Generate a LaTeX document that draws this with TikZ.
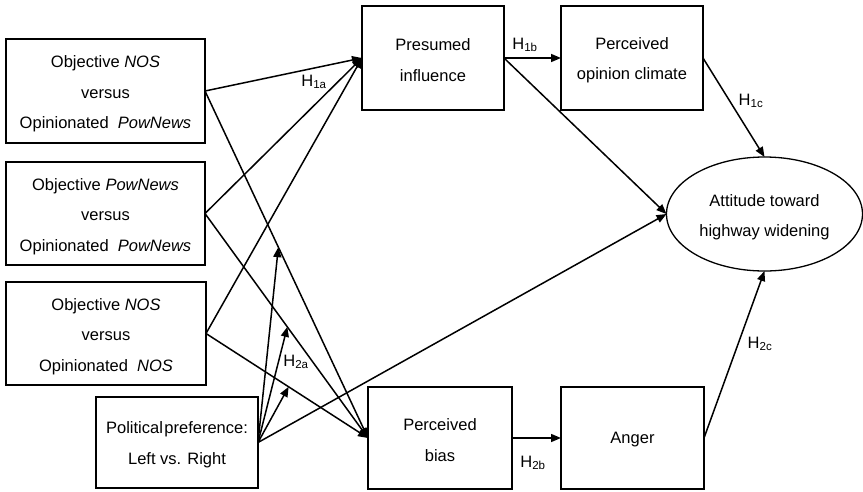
\documentclass[tikz,border=0pt]{standalone}
\usepackage{fontspec}
\setmainfont{Liberation Sans}
\usetikzlibrary{arrows.meta,shapes.geometric}
\begin{document}
\begin{tikzpicture}[x=1pt,y=-1pt,
  every node/.style={inner sep=0pt,outer sep=0pt},
  box/.style={draw,line width=1.3pt,rectangle},
  oval/.style={draw,line width=1.3pt,ellipse},
  txt/.style={align=center,font=\fontsize{16.5}{30.5}\selectfont},
  arr/.style={line width=1.5pt,-{Triangle[length=10pt,width=8pt]}},
  lab/.style={font=\fontsize{16.5}{18}\selectfont}
]
\useasboundingbox (0,0) rectangle (863,491);
\node[box,minimum width=199pt,minimum height=104pt] (b1) at (105.5,91) {};
\node[box,minimum width=199pt,minimum height=103pt] (b2) at (105.5,213.5) {};
\node[box,minimum width=200pt,minimum height=103pt] (b3) at (106,333.5) {};
\node[box,minimum width=162pt,minimum height=91pt] (pp) at (177,442.5) {};
\node[box,minimum width=142pt,minimum height=104pt] (pi) at (433,58) {};
\node[box,minimum width=142pt,minimum height=104pt] (pc) at (632,58) {};
\node[box,minimum width=144pt,minimum height=102pt] (bias) at (440,438) {};
\node[box,minimum width=143pt,minimum height=102pt] (anger) at (632.5,438) {};
\node[oval,minimum width=196pt,minimum height=114pt] (att) at (764.5,214) {};

\node[txt] (b1t) at ([yshift=-3pt]b1.center) {Objective \textit{NOS}\\versus\\Opinionated\ \ \textit{PowNews}};
\node[txt] (b2t) at ([yshift=-3pt]b2.center) {Objective \textit{PowNews}\\versus\\Opinionated\ \ \textit{PowNews}};
\node[txt] (b3t) at ([yshift=-3pt]b3.center) {Objective \textit{NOS}\\versus\\Opinionated\ \ \textit{NOS}};
\node[txt] (ppt) at ([yshift=-2pt]pp.center) {Political\hspace{1.5pt}preference:\\Left vs. Right};
\node[txt] (pit) at ([yshift=-2pt]pi.center) {Presumed\\influence};
\node[txt] (pct) at ([yshift=-2pt]pc.center) {Perceived\\opinion climate};
\node[txt] (biast) at ([yshift=-2pt]bias.center) {Perceived\\bias};
\node[txt] (angert) at ([yshift=-2pt]anger.center) {Anger};
\node[txt] (attt) at ([yshift=-3pt]att.center) {Attitude toward\\highway widening};

% paths to presumed influence
\draw[arr] (b1.east) -- (pi.west);
\draw[arr] (b2.east) -- (pi.west);
\draw[arr] (b3.east) -- (pi.west);
% paths to perceived bias
\draw[arr] (b1.east) -- (bias.west) coordinate[pos=0.45] (m1);
\draw[arr] (b2.east) -- (bias.west) coordinate[pos=0.505] (m2);
\draw[arr] (b3.east) -- (bias.west) coordinate[pos=0.51] (m3);
% moderation
\draw[arr] (pp.east) -- (m1);
\draw[arr] (pp.east) -- (m2);
\draw[arr] (pp.east) -- (m3);
\draw[arr] (pp.east) -- (att.west);
% right side
\draw[arr] (pi.east) -- (pc.west);
\draw[arr] (pi.east) -- (att.west);
\draw[arr] (pc.east) -- (att.north);
\draw[arr] (bias.east) -- (anger.west);
\draw[arr] (anger.east) -- (att.south);

% labels
\node[lab] (h1a) at (314,82) {H\textsubscript{1a}};
\node[lab] (h1b) at (525,45) {H\textsubscript{1b}};
\node[lab] (h1c) at (751,101) {H\textsubscript{1c}};
\node[lab] (h2a) at (296,362) {H\textsubscript{2a}};
\node[lab] (h2b) at (533,463) {H\textsubscript{2b}};
\node[lab] (h2c) at (760,344) {H\textsubscript{2c}};
\end{tikzpicture}
\end{document}
